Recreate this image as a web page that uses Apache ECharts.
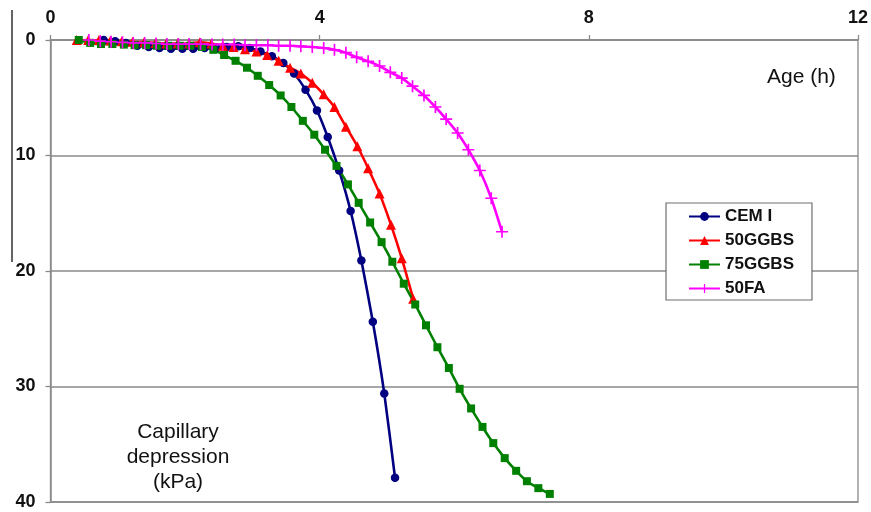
<!DOCTYPE html>
<html>
<head>
<meta charset="utf-8">
<script src="https://cdn.jsdelivr.net/npm/echarts@6/dist/echarts.min.js"></script>
<style>
  html, body { margin: 0; padding: 0; background: #ffffff; }
  #chart { width: 871px; height: 512px; }
</style>
</head>
<body>
<div id="chart"></div>
<script>
// Age (h) and capillary depression (kPa) for each mix
const cemHours = [0.79, 0.96, 1.12, 1.29, 1.46, 1.62, 1.79, 1.96, 2.12, 2.29, 2.46, 2.62, 2.79, 2.96,
  3.12, 3.29, 3.46, 3.62, 3.79, 3.96, 4.12, 4.29, 4.46, 4.62, 4.79, 4.96, 5.12];
const cemKPa = [0, 0.1, 0.25, 0.5, 0.6, 0.7, 0.75, 0.75, 0.75, 0.7, 0.7, 0.6, 0.55, 0.7,
  1.0, 1.4, 2.0, 2.9, 4.3, 6.1, 8.4, 11.3, 14.8, 19.1, 24.4, 30.6, 37.9];

const ggbs50Hours = [0.39, 0.56, 0.72, 0.89, 1.06, 1.22, 1.39, 1.56, 1.72, 1.89, 2.06, 2.22, 2.39, 2.56,
  2.72, 2.89, 3.06, 3.22, 3.39, 3.56, 3.72, 3.89, 4.06, 4.22, 4.39, 4.56, 4.72, 4.89, 5.06, 5.22, 5.39];
const ggbs50KPa = [0, 0, 0, 0.05, 0.1, 0.15, 0.2, 0.25, 0.3, 0.3, 0.3, 0.2, 0.3, 0.5,
  0.6, 0.8, 1.0, 1.3, 1.8, 2.4, 2.9, 3.7, 4.7, 5.8, 7.5, 9.2, 11.1, 13.3, 16.0, 18.9, 22.4];

const ggbs75Hours = [0.42, 0.59, 0.75, 0.92, 1.09, 1.25, 1.42, 1.58, 1.75, 1.92, 2.08, 2.25, 2.42, 2.58,
  2.75, 2.92, 3.08, 3.25, 3.42, 3.58, 3.75, 3.92, 4.08, 4.25, 4.42, 4.58, 4.75, 4.92, 5.08, 5.25,
  5.42, 5.58, 5.75, 5.92, 6.08, 6.25, 6.42, 6.58, 6.75, 6.92, 7.08, 7.25, 7.42];
const ggbs75KPa = [0, 0.25, 0.35, 0.35, 0.4, 0.45, 0.45, 0.5, 0.5, 0.5, 0.5, 0.6, 0.85, 1.3,
  1.8, 2.4, 3.1, 3.9, 4.8, 5.8, 7.0, 8.2, 9.5, 10.9, 12.5, 14.1, 15.8, 17.5, 19.2, 21.1,
  22.9, 24.7, 26.6, 28.4, 30.2, 31.9, 33.5, 34.9, 36.2, 37.3, 38.2, 38.8, 39.3];

const fa50Hours = [0.57, 0.74, 0.90, 1.07, 1.23, 1.40, 1.57, 1.73, 1.90, 2.06, 2.23, 2.40, 2.56, 2.73,
  2.89, 3.06, 3.23, 3.39, 3.56, 3.72, 3.89, 4.06, 4.22, 4.39, 4.55, 4.72, 4.89, 5.05, 5.22, 5.38,
  5.55, 5.72, 5.88, 6.05, 6.21, 6.38, 6.55, 6.71];
const fa50KPa = [0, 0.1, 0.15, 0.2, 0.25, 0.25, 0.3, 0.35, 0.35, 0.35, 0.35, 0.4, 0.4, 0.4,
  0.45, 0.45, 0.45, 0.5, 0.5, 0.55, 0.6, 0.7, 0.85, 1.1, 1.5, 1.85, 2.25, 2.8, 3.3, 4.0,
  4.8, 5.8, 6.85, 8.05, 9.5, 11.3, 13.7, 16.6];

const seriesNames = ['CEM I', '50GGBS', '75GGBS', '50FA'];
const ageTicks = [0, 4, 8, 12];
const pressureTicks = [0, 10, 20, 30, 40];

const pair = (xs, ys) => xs.map((x, i) => [x, ys[i]]);

const plusSymbol = 'path://M4.3,0h1.4v10h-1.4z M0,4.3h10v1.4h-10z';
const labelFont = { fontFamily: 'Liberation Sans, Arial, sans-serif', fontWeight: 'bold', fontSize: 17, color: '#111' };
const gridGray = '#8a8a8a';

const chart = echarts.init(document.getElementById('chart'), null, { renderer: 'canvas' });

function lineSeries(name, data, color, symbol, size) {
  return {
    name: name,
    type: 'line',
    data: data,
    smooth: 0.2,
    symbol: symbol,
    symbolSize: size,
    showAllSymbol: true,
    lineStyle: { color: color, width: 2.6 },
    itemStyle: { color: color },
    emphasis: { disabled: true },
    animation: false,
    z: 3
  };
}

chart.setOption({
  backgroundColor: '#ffffff',
  animation: false,
  grid: {
    left: 50.5, right: 10, top: 40, bottom: 10,
    show: true, borderColor: gridGray, borderWidth: 1.3
  },
  xAxis: {
    type: 'value',
    position: 'top',
    min: ageTicks[0], max: ageTicks[ageTicks.length - 1], interval: ageTicks[1] - ageTicks[0],
    axisLine: { show: true, lineStyle: { color: gridGray, width: 1.5 } },
    axisTick: { show: true, length: 5, lineStyle: { color: gridGray, width: 1.3 } },
    axisLabel: Object.assign({ margin: 13 }, labelFont, { fontSize: 18 }),
    splitLine: { show: false }
  },
  yAxis: {
    type: 'value',
    inverse: true,
    min: pressureTicks[0], max: pressureTicks[pressureTicks.length - 1], interval: pressureTicks[1] - pressureTicks[0],
    axisLine: { show: true, onZero: false, lineStyle: { color: gridGray, width: 1.5 } },
    axisTick: { show: true, length: 5, lineStyle: { color: gridGray, width: 1.3 } },
    axisLabel: Object.assign({ margin: 15 }, labelFont, { fontSize: 18 }),
    splitLine: { show: true, lineStyle: { color: gridGray, width: 1.5 } }
  },
  legend: {
    data: seriesNames,
    orient: 'vertical',
    left: 666, top: 203,
    width: 151,
    padding: [5, 18, 3, 22],
    itemWidth: 31, itemHeight: 11, itemGap: 7,
    backgroundColor: '#ffffff',
    borderColor: '#6e6e6e', borderWidth: 1.2,
    textStyle: { fontFamily: 'Liberation Sans, Arial, sans-serif', fontWeight: 'bold', fontSize: 17, color: '#111', padding: [0, 0, 0, 0] },
    itemStyle: { borderWidth: 0 }
  },
  graphic: [
    { type: 'line', shape: { x1: 12, y1: 10, x2: 12, y2: 262 }, style: { stroke: '#222', lineWidth: 1.4 }, z: 10 },
    {
      type: 'text', left: 804 - 37, top: 67, z: 10,
      style: { text: 'Age (h)', font: '21px Liberation Sans, Arial, sans-serif', fill: '#111' }
    },
    {
      type: 'text', x: 178, y: 420, z: 10,
      style: {
        text: 'Capillary\ndepression\n(kPa)', font: '21px Liberation Sans, Arial, sans-serif',
        fill: '#111', align: 'center', lineHeight: 25
      }
    }
  ],
  series: [
    lineSeries(seriesNames[0], pair(cemHours, cemKPa), '#000080', 'circle', 8.5),
    lineSeries(seriesNames[1], pair(ggbs50Hours, ggbs50KPa), '#ff0000', 'triangle', 10),
    lineSeries(seriesNames[2], pair(ggbs75Hours, ggbs75KPa), '#008000', 'rect', 8),
    lineSeries(seriesNames[3], pair(fa50Hours, fa50KPa), '#ff00ff', plusSymbol, 12)
  ]
});
</script>
</body>
</html>
